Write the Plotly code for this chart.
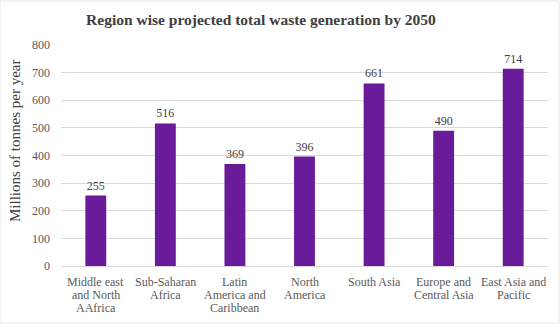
import plotly.graph_objects as go

regions = [
    "Middle east<br>and North<br>AAfrica",
    "Sub-Saharan<br>Africa",
    "Latin<br>America and<br>Caribbean",
    "North<br>America",
    "South Asia",
    "Europe and<br>Central Asia",
    "East Asia and<br>Pacific",
]
waste_2050 = [255, 516, 369, 396, 661, 490, 714]
y_ticks = [0, 100, 200, 300, 400, 500, 600, 700, 800]

SERIF = "Times New Roman, Liberation Serif, DejaVu Serif, serif"
BAR_COLOR = "#6a1b9a"
LABEL_GRAY = "#595959"
TEXT_GRAY = "#404040"

fig = go.Figure(
    go.Bar(
        x=regions,
        y=waste_2050,
        marker=dict(color=BAR_COLOR, line=dict(width=0)),
        text=[str(v) for v in waste_2050],
        textposition="outside",
        textfont=dict(family=SERIF, size=12, color=TEXT_GRAY),
        cliponaxis=False,
    )
)

# category labels, one annotation per line for tighter line spacing
for region in regions:
    for i, line in enumerate(region.split("<br>")):
        fig.add_annotation(
            x=region, y=0, xref="x", yref="y",
            text=line, showarrow=False,
            yanchor="middle", yshift=-(16 + 13 * i),
            font=dict(family=SERIF, size=12, color=LABEL_GRAY),
        )

# vertical axis title
fig.add_annotation(
    x=-46 / 487, y=(266 - 141) / 221, xref="paper", yref="paper",
    text="Millions of tonnes per year", textangle=-90, showarrow=False,
    xanchor="center", yanchor="middle",
    font=dict(family=SERIF, size=15, color=TEXT_GRAY),
)

fig.update_layout(
    width=560,
    height=327,
    paper_bgcolor="white",
    plot_bgcolor="white",
    font=dict(family=SERIF),
    margin=dict(l=61, r=12, t=45, b=61),
    bargap=0.7,
    showlegend=False,
    title=dict(
        text="<b>Region wise projected total waste generation by 2050</b>",
        x=0.466,
        xanchor="center",
        y=0.94,
        yanchor="middle",
        font=dict(family=SERIF, size=15.5, color=TEXT_GRAY),
    ),
    xaxis=dict(
        showticklabels=False,
        showline=True,
        linecolor="#d9d9d9",
        linewidth=1,
        ticks="",
        showgrid=False,
    ),
    yaxis=dict(
        range=[0, 800],
        tickvals=y_ticks,
        tickfont=dict(family=SERIF, size=12, color=LABEL_GRAY),
        showgrid=True,
        gridcolor="#d9d9d9",
        gridwidth=1,
        zeroline=False,
        ticks="",
        ticklabelstandoff=10,
    ),
)

# faint outer border of the chart area
fig.add_shape(
    type="rect", xref="paper", yref="paper",
    x0=-61 / 487, x1=1 + 11 / 487, y0=-57 / 221, y1=1 + 44 / 221,
    line=dict(color="#e6e6e6", width=1),
)

fig.write_html("out.html")
